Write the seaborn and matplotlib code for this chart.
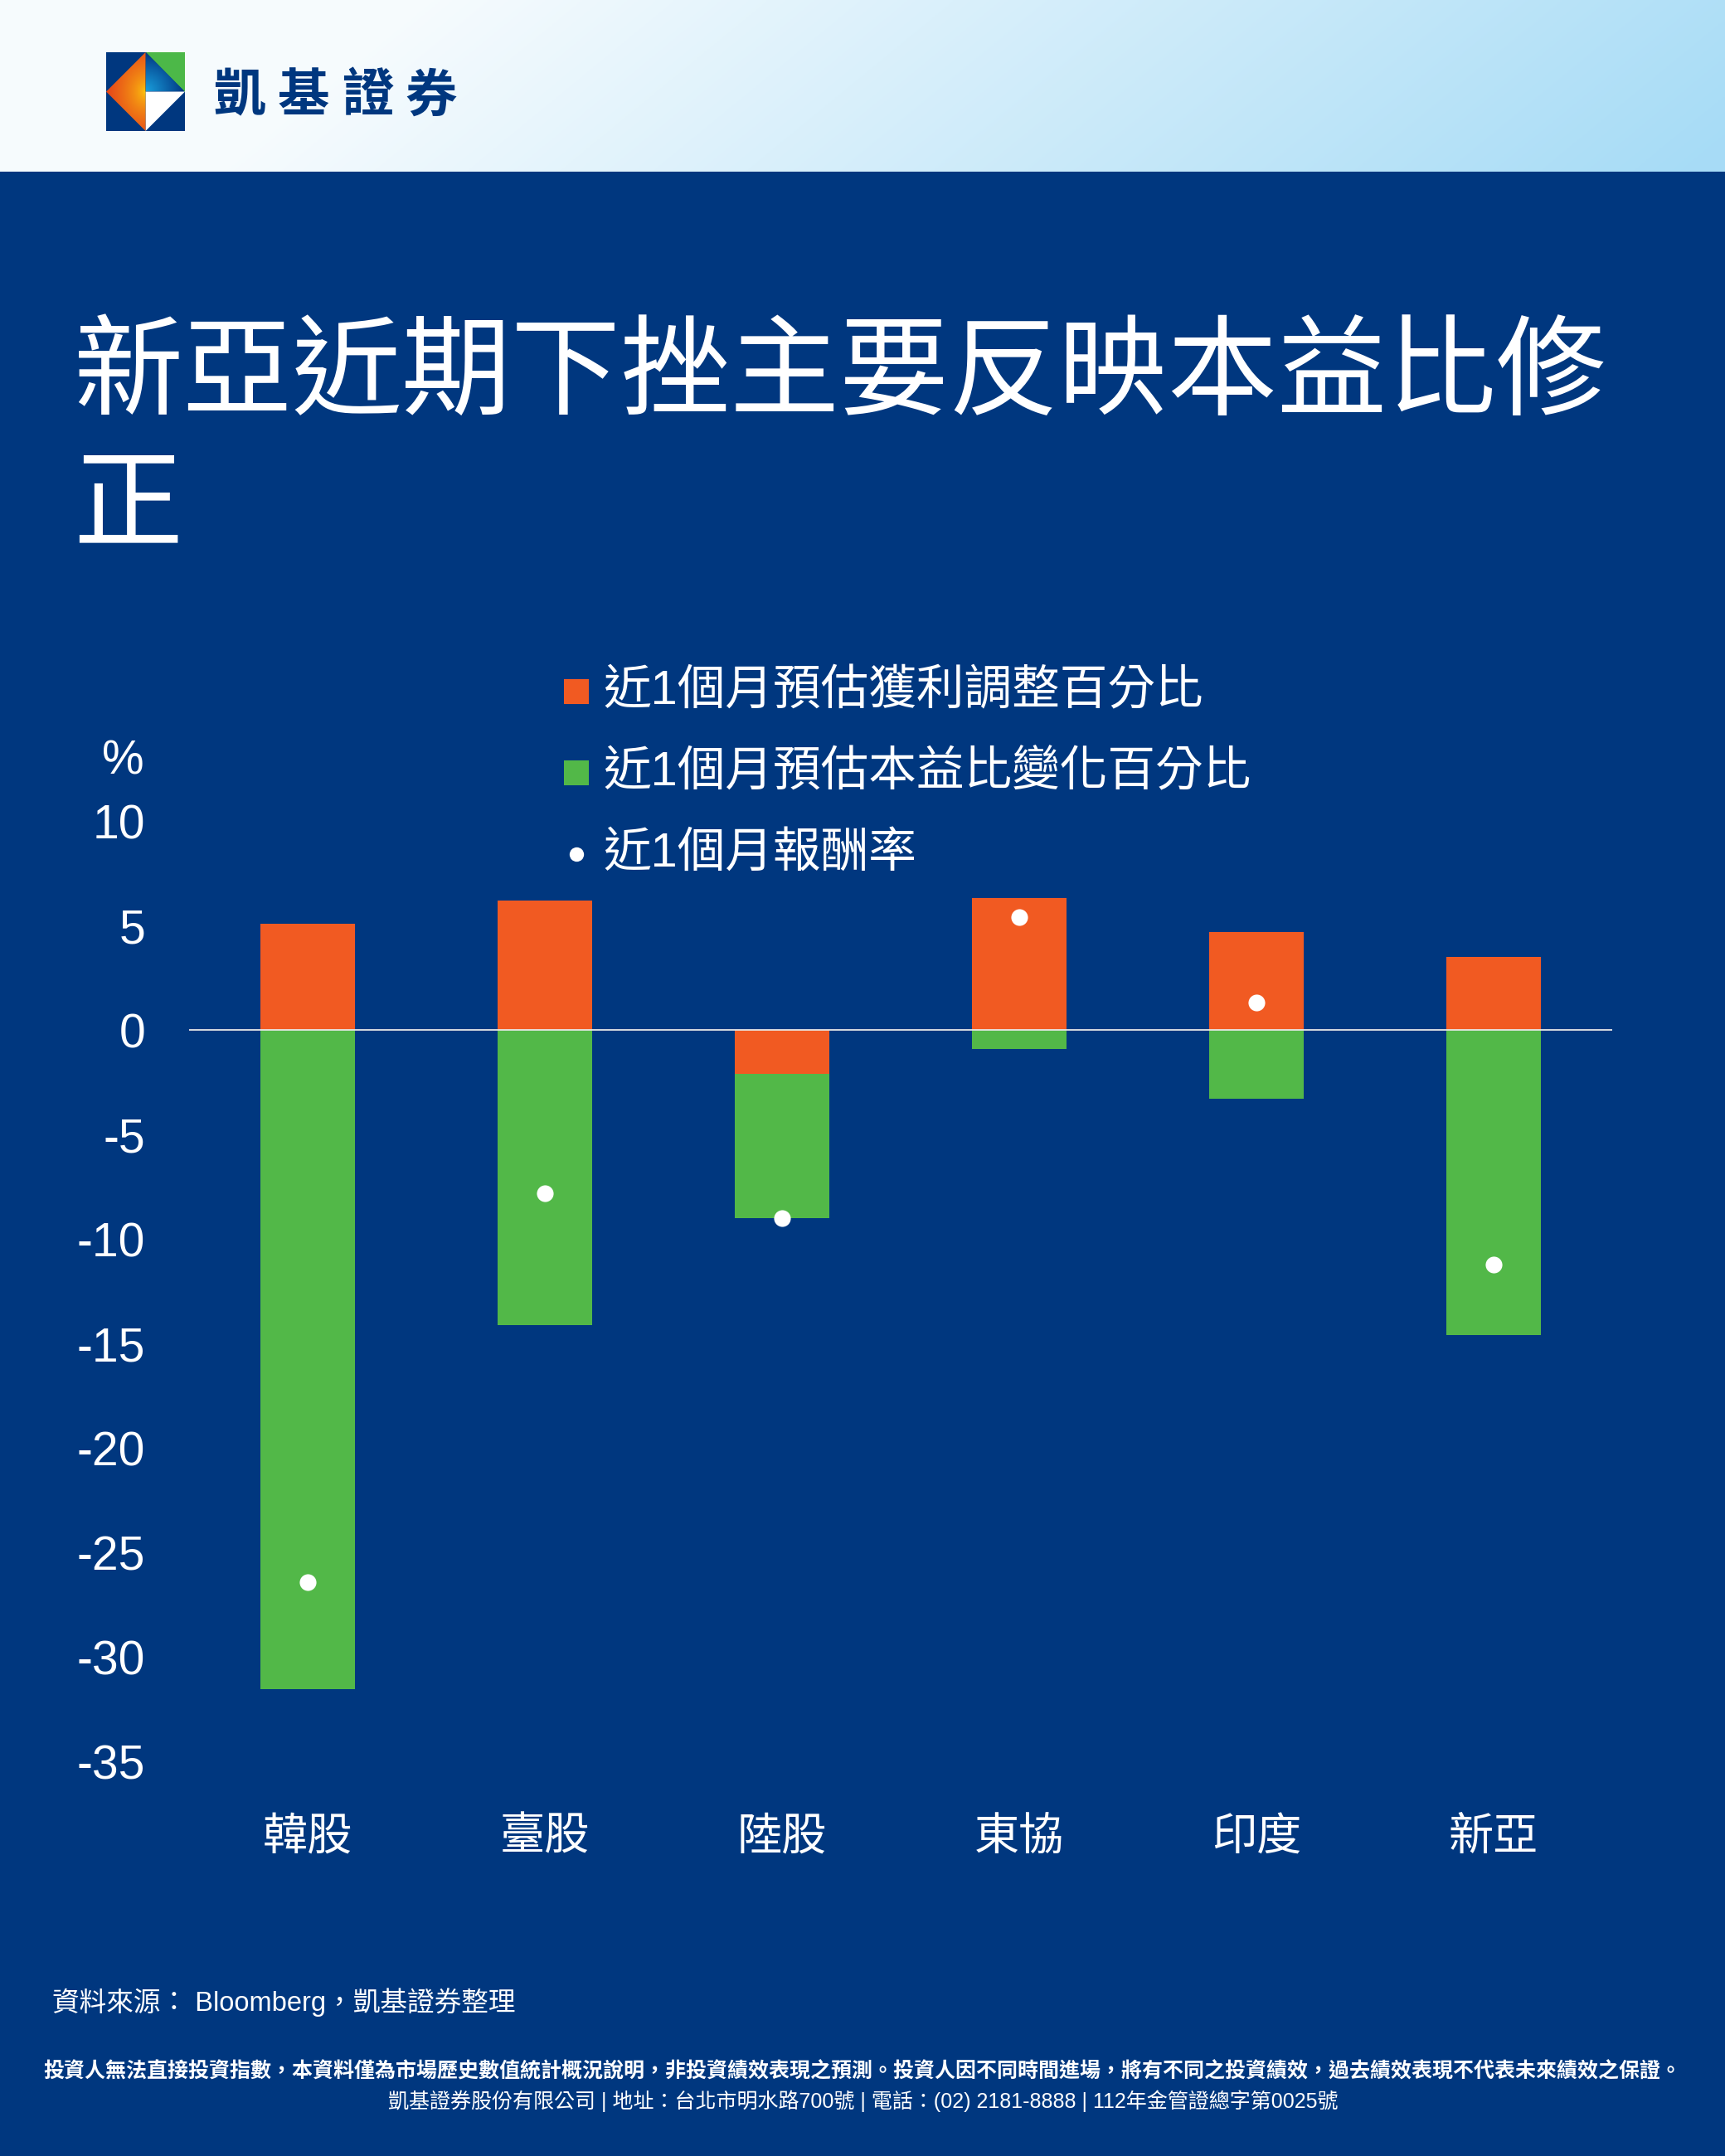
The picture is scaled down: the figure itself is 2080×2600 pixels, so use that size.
import numpy as np
import pandas as pd
import matplotlib
matplotlib.use("Agg")
import matplotlib.pyplot as plt
from matplotlib.patches import Polygon
from matplotlib.lines import Line2D
import seaborn as sns

# 資料 (讀自圖表)
markets = ["韓股", "臺股", "陸股", "東協", "印度", "新亞"]
eps_rev = [5.1, 6.2, -2.1, 6.3, 4.7, 3.5]          # 近1個月預估獲利調整百分比
pe_chg = [-31.5, -14.1, -6.9, -0.9, -3.3, -14.6]   # 近1個月預估本益比變化百分比
ret_1m = [-26.4, -7.8, -9.0, 5.4, 1.3, -11.2]      # 近1個月報酬率
yticks = [10, 5, 0, -5, -10, -15, -20, -25, -30, -35]
legend_labels = ["近1個月預估獲利調整百分比", "近1個月預估本益比變化百分比", "近1個月報酬率"]

title_1 = "新亞近期下挫主要反映本益比修"
title_2 = "正"
source_txt = "資料來源： Bloomberg，凱基證券整理"
disclaimer = ("投資人無法直接投資指數，本資料僅為市場歷史數值統計概況說明，非投資績效表現之預測。"
              "投資人因不同時間進場，將有不同之投資績效，過去績效表現不代表未來績效之保證。")
company = "凱基證券股份有限公司 | 地址：台北市明水路700號 | 電話：(02) 2181-8888 | 112年金管證總字第0025號"

NAVY = "#00377f"
ORANGE = "#f15a22"
GREEN = "#52b848"

sns.set_style("white")
plt.rcParams["font.family"] = ["Liberation Sans", "Noto Sans CJK TC", "DejaVu Sans"]
CJK = ["Noto Sans CJK TC", "DejaVu Sans"]

W, H = 2080, 2600
fig = plt.figure(figsize=(W / 100, H / 100), dpi=100, facecolor=NAVY)


def fx(px):
    return px / W


def fy(py):
    return 1 - py / H


# 上方漸層色帶
band = fig.add_axes([0, fy(207), 1, 207 / H])
GX, GY = np.meshgrid(np.linspace(0, 1, 500), np.linspace(0, 1, 80))
t = np.clip(GX * 1.0 + GY * 0.12 - 0.25, 0, 0.85) / 0.85
c0 = np.array([0.965, 0.985, 0.995])
c1 = np.array([0.655, 0.862, 0.965])
band.imshow(c0 + (c1 - c0) * t[..., None], aspect="auto", extent=[0, 1, 0, 1], origin="upper")
band.set_axis_off()

# logo (像素座標)
lg = fig.add_axes([0, 0, 1, 1], zorder=5)
lg.set_xlim(0, W)
lg.set_ylim(H, 0)
lg.set_axis_off()
lg.patch.set_alpha(0)
L, R, T, B = 128, 223, 63, 158
cx, cy = (L + R) / 2, (T + B) / 2
lg.add_patch(Polygon([[L, T], [R, T], [R, B], [L, B]], closed=True, color=NAVY, lw=0))
lg.add_patch(Polygon([[cx, T], [R, T], [R, cy]], closed=True, color="#4cb848", lw=0))
lg.add_patch(Polygon([[cx, cy], [R, cy], [cx, B]], closed=True, color="white", lw=0))

# 左側橘色漸層三角形
xx, yy = np.meshgrid(np.linspace(L, cx, 60), np.linspace(T, B, 120))
d = np.clip(np.hypot(xx - cx, (yy - cy) * 0.8) / 48, 0, 1)
ya = np.array([1.0, 0.82, 0.05])
rd = np.array([0.9, 0.27, 0.1])
im = lg.imshow(ya + (rd - ya) * d[..., None] ** 0.6, extent=[L, cx, B, T], aspect="auto", zorder=2)
tri = Polygon([[L, cy], [cx, T], [cx, B]], closed=True, transform=lg.transData)
im.set_clip_path(tri)

# 右上藍色漸層三角形
xx, yy = np.meshgrid(np.linspace(cx, R, 60), np.linspace(T, cy, 60))
d = np.clip(np.hypot(xx - cx, yy - cy) / 48, 0, 1)
lb = np.array([0.1, 0.62, 0.86])
nb = np.array([0.0, 0.2, 0.5])
im2 = lg.imshow(lb + (nb - lb) * d[..., None], extent=[cx, R, cy, T], aspect="auto", zorder=2)
tri2 = Polygon([[cx, T], [R, cy], [cx, cy]], closed=True, transform=lg.transData)
im2.set_clip_path(tri2)
lg.set_xlim(0, W)
lg.set_ylim(H, 0)

for i, ch in enumerate("凱基證券"):
    fig.text(fx(289 + i * 77), fy(116), ch, color=NAVY, fontsize=45, fontweight="bold",
             family=CJK, ha="center", va="center")

# 標題
fig.text(fx(88), fy(452), title_1, color="white", fontsize=95, fontweight="light",
         family=CJK, ha="left", va="center")
fig.text(fx(88), fy(612), title_2, color="white", fontsize=95, fontweight="light",
         family=CJK, ha="left", va="center")

# 主圖
df = pd.DataFrame({"market": markets, "eps": eps_rev, "pe": pe_chg, "ret": ret_1m})
df["green_end"] = df["pe"] + np.minimum(df["eps"], 0)

ax = fig.add_axes([fx(228), fy(2125), fx(1944) - fx(228), (2125 - 990) / H])
ax.set_facecolor("none")
sns.barplot(data=df, x="market", y="green_end", color=GREEN, width=0.4, saturation=1,
            linewidth=0, ax=ax, zorder=2)
sns.barplot(data=df, x="market", y="eps", color=ORANGE, width=0.4, saturation=1,
            linewidth=0, ax=ax, zorder=2)
ax.axhline(0, color="#e8e8e8", lw=1.3, zorder=3)
sns.stripplot(data=df, x="market", y="ret", color="white", size=14.5, linewidth=0,
              jitter=False, ax=ax, zorder=4)

ax.set_xlim(-0.5, len(markets) - 0.5)
ax.set_ylim(-35, 10)
ax.set_yticks(yticks)
ax.set_yticklabels([str(v) for v in yticks])
ax.set_xlabel("")
ax.set_ylabel("")
sns.despine(ax=ax, left=True, bottom=True)
ax.tick_params(axis="y", labelsize=41, colors="white", length=0, pad=38)
ax.tick_params(axis="x", labelsize=39, colors="white", length=0, pad=45)
for lab in ax.get_xticklabels():
    lab.set_family(CJK)
    lab.set_fontweight("light")
ax.grid(False)

fig.text(fx(174), fy(918), "%", color="white", fontsize=41, ha="right", va="center")

# 圖例
for lab, mk, col, ms, row in zip(legend_labels, ["s", "s", "o"], [ORANGE, GREEN, "white"],
                                 [21.5, 21.5, 12.5], [834, 932, 1030]):
    fig.add_artist(Line2D([fx(695)], [fy(row)], marker=mk, markersize=ms, color=col,
                          markeredgewidth=0, linestyle="none", transform=fig.transFigure))
    fig.text(fx(727), fy(row), lab, color="white", fontsize=41.5, fontweight="light",
             ha="left", va="center")

# 頁尾
fig.text(fx(63), fy(2415), source_txt, color="white", fontsize=23.5, ha="left", va="center")
fig.text(fx(1040), fy(2498), disclaimer, color="white", fontsize=18, fontweight="bold",
         ha="center", va="center")
fig.text(fx(1041), fy(2534), company, color="white", fontsize=18, ha="center", va="center")

fig.savefig("out.png", dpi=100, facecolor=NAVY)
